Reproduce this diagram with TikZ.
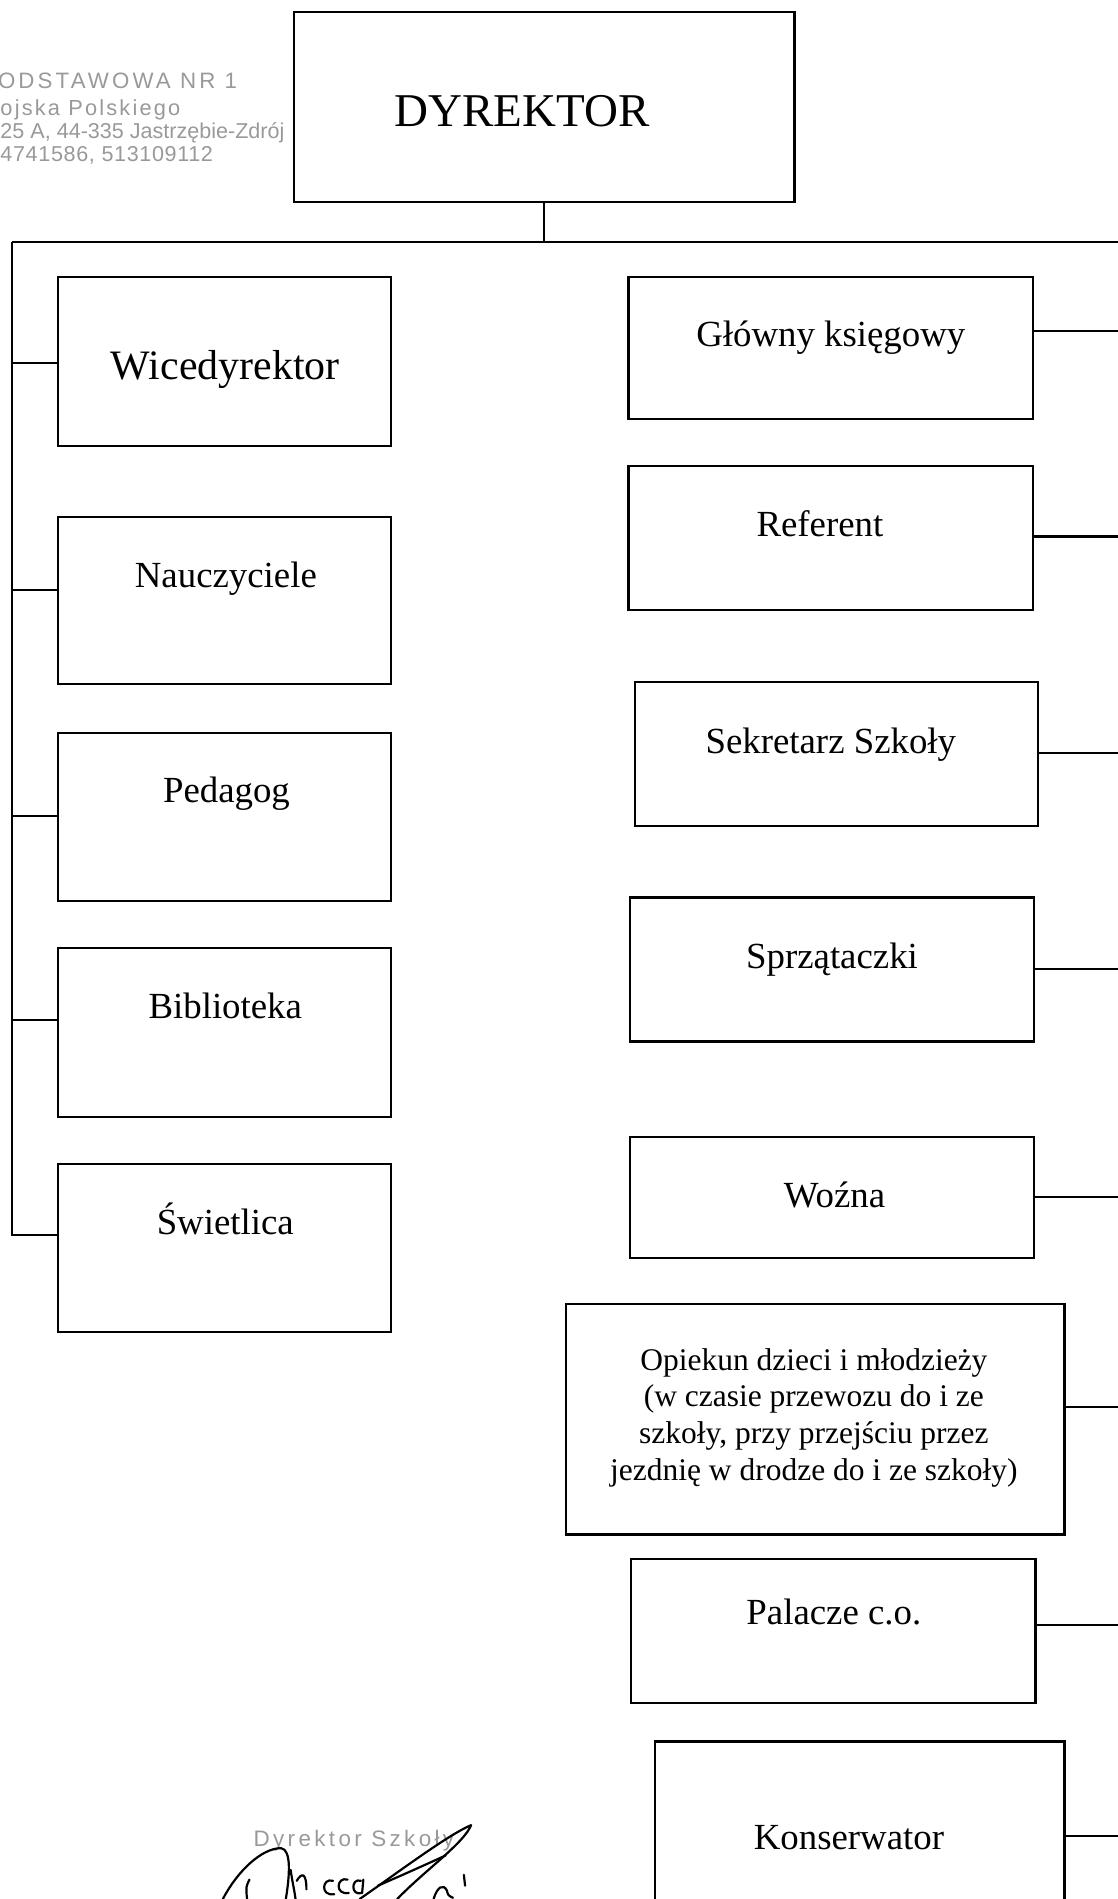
\documentclass[tikz,border=0pt]{standalone}
\usepackage{fontspec}
\setmainfont{Liberation Serif}
\newfontfamily\stampA[LetterSpace=14]{Liberation Sans}
\newfontfamily\stampB[LetterSpace=10]{Liberation Sans}
\newfontfamily\stampC{Liberation Sans}
\newfontfamily\stampD[LetterSpace=3]{Liberation Sans}
\newfontfamily\stampE[LetterSpace=15]{Liberation Sans}
\definecolor{stampgray}{gray}{0.6}
\begin{document}
\begin{tikzpicture}[x=0.5pt,y=-0.5pt,
  box/.style={draw, line width=0.9pt, inner sep=0pt, rectangle},
  lbox/.style={box, minimum width=137.5pt, minimum height=69.5pt},
  conn/.style={draw, line width=0.85pt},
  lbl/.style={anchor=base, inner sep=0pt, font=\fontsize{15.2pt}{18pt}\selectfont},
  stamp/.style={anchor=base west, inner sep=0pt, text=stampgray},
  sig/.style={line width=0.9pt, line cap=round, line join=round}]
\useasboundingbox (0,0) rectangle (923,1568);

% ---- boxes ----
\node[box, minimum width=206.5pt, minimum height=78.5pt] (dyr) at (449.5,88.5) {};
\node[lbl, font=\fontsize{19.4pt}{22pt}\selectfont] (tdyr) at (431,104.6) {DYREKTOR};

\node[lbox] (wic) at (185.5,298.5) {};
\node[lbl, font=\fontsize{17.3pt}{20pt}\selectfont] (twic) at (186,313) {Wicedyrektor};
\node[lbox, minimum height=69pt] (nau) at (185.5,496) {};
\node[lbl] (tnau) at (186.5,485) {Nauczyciele};
\node[lbox] (ped) at (185.5,674.5) {};
\node[lbl] (tped) at (187,663) {Pedagog};
\node[lbox] (bib) at (185.5,852.5) {};
\node[lbl] (tbib) at (186,841) {Biblioteka};
\node[lbox] (swi) at (185.5,1030.5) {};
\node[lbl] (tswi) at (186,1019) {Świetlica};

\node[box, minimum width=167pt, minimum height=58.5pt] (glo) at (686,287.5) {};
\node[lbl] (tglo) at (686,286) {Główny księgowy};
\node[box, minimum width=167pt, minimum height=59.5pt] (ref) at (686,444.5) {};
\node[lbl] (tref) at (677,443) {Referent};
\node[box, minimum width=166.5pt, minimum height=59.5pt] (sek) at (690.5,622.5) {};
\node[lbl] (tsek) at (686,622) {Sekretarz Szkoły};
\node[box, minimum width=167pt, minimum height=59.5pt] (spr) at (687,800.5) {};
\node[lbl] (tspr) at (687,800) {Sprzątaczki};
\node[box, minimum width=167pt, minimum height=50pt] (woz) at (687,989) {};
\node[lbl] (twoz) at (689,997) {Woźna};
\node[box, minimum width=206pt, minimum height=95pt] (opi) at (673,1172) {};
\node[inner sep=0pt, align=center, font=\fontsize{13pt}{15.15pt}\selectfont] (topi) at (672,1170.5)
  {Opiekun dzieci i młodzieży\\(w czasie przewozu do i ze\\szkoły, przy przejściu przez\\jezdnię w drodze do i ze szkoły)};
\node[box, minimum width=167pt, minimum height=59.5pt] (pal) at (688,1346.5) {};
\node[lbl] (tpal) at (688.5,1341) {Palacze c.o.};
\node[box, minimum width=169pt, minimum height=91pt] (kon) at (710,1529) {};
\node[lbl] (tkon) at (701,1527) {Konserwator};

% ---- connectors ----
\coordinate (tl) at (10,200);
\coordinate (tr) at (923,200);
\coordinate (lb) at (10,1020);
\coordinate (re) at (923,0);

\draw[conn] (dyr.south) -- (dyr.south |- tl);
\draw[conn] (tl) -- (tr);
\draw[conn] (tl) -- (lb) -- (swi.west |- lb);
\draw[conn] (tl |- 0,300) -- (wic.west |- 0,300);
\draw[conn] (tl |- 0,487) -- (nau.west |- 0,487);
\draw[conn] (tl |- 0,674) -- (ped.west |- 0,674);
\draw[conn] (tl |- 0,842) -- (bib.west |- 0,842);

\draw[conn] (glo.east |- 0,273) -- (re |- 0,273);
\draw[conn] (ref.east |- 0,443) -- (re |- 0,443);
\draw[conn] (sek.east |- 0,622) -- (re |- 0,622);
\draw[conn] (spr.east |- 0,800) -- (re |- 0,800);
\draw[conn] (woz.east |- 0,988) -- (re |- 0,988);
\draw[conn] (opi.east |- 0,1162) -- (re |- 0,1162);
\draw[conn] (pal.east |- 0,1342) -- (re |- 0,1342);
\draw[conn] (kon.east |- 0,1516) -- (re |- 0,1516);

% ---- stamp ----
\node[stamp, font=\stampA\fontsize{9.2pt}{10pt}\selectfont] (s1) at (-2,73) {ODSTAWOWA NR 1};
\node[stamp, font=\stampB\fontsize{9pt}{10pt}\selectfont] (s2) at (0,95) {ojska Polskiego};
\node[stamp, font=\stampC\fontsize{8.9pt}{10pt}\selectfont] (s3) at (0,114.2) {25 A, 44-335 Jastrzębie-Zdrój};
\node[stamp, font=\stampD\fontsize{8.9pt}{10pt}\selectfont] (s4) at (0,133) {4741586, 513109112};

% ---- signature ----
\node[stamp, font=\stampE\fontsize{9.25pt}{11pt}\selectfont] (ds) at (209,1525) {Dyrektor Szkoły};
\draw[sig] (184,1568) .. controls (196,1545) and (216,1526) .. (232,1526) .. controls (241,1527) and (239,1550) .. (236,1568);
\draw[sig] (206,1552) .. controls (203,1558) .. (204,1568);
\draw[sig] (240,1544) .. controls (241,1552) and (243,1560) .. (244,1568);
\draw[sig] (245,1553) .. controls (249,1546) and (253,1546) .. (253,1560);
\draw[sig] (275,1553) .. controls (266,1550) and (264,1566) .. (276,1564);
\draw[sig] (287,1552) .. controls (278,1549) and (276,1565) .. (288,1563);
\draw[sig] (298,1553) .. controls (290,1550) and (289,1566) .. (299,1563) -- (300,1552);
\draw[sig] (297,1568) .. controls (330,1545) and (370,1515) .. (389,1507) .. controls (383,1522) and (350,1545) .. (328,1568);
\draw[sig] (312,1557) .. controls (335,1547) and (355,1538) .. (368,1532);
\draw[sig] (358,1568) .. controls (361,1558) and (366,1555) .. (369,1561) .. controls (370,1565) .. (374,1567);
\draw[sig] (383,1548) -- (384,1557);
\end{tikzpicture}
\end{document}
